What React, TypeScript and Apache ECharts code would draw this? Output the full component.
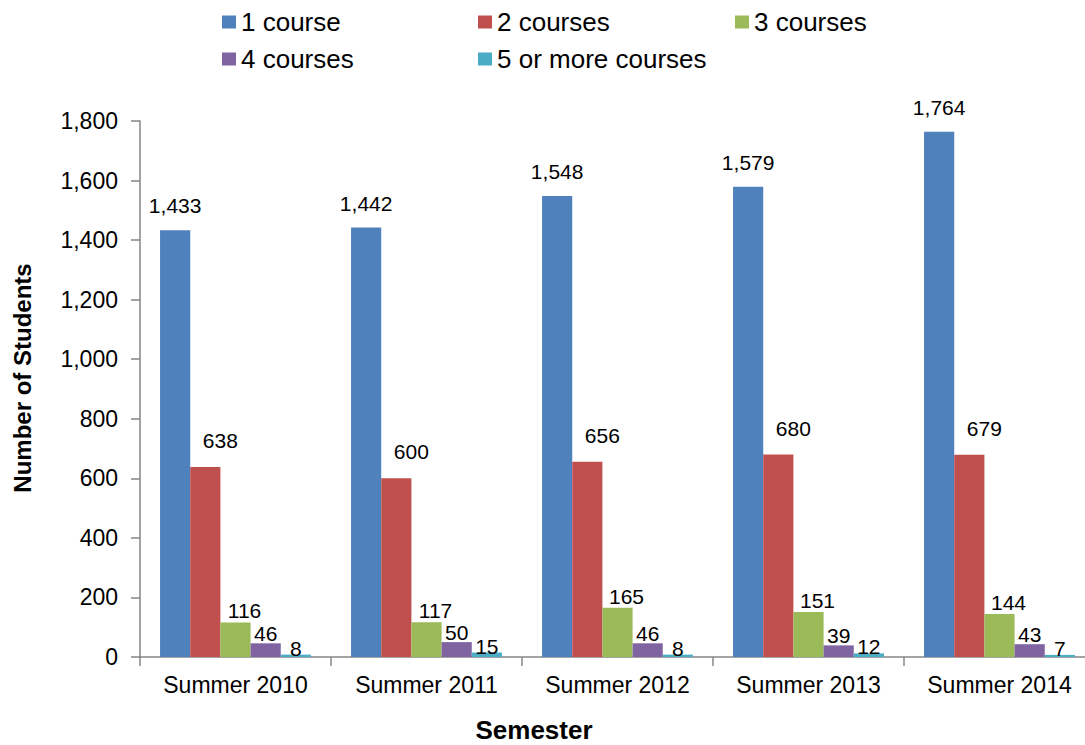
import React, { useEffect, useRef } from "react";
import * as echarts from "echarts";

const categories = ["Summer 2010", "Summer 2011", "Summer 2012", "Summer 2013", "Summer 2014"];
const seriesNames = ["1 course", "2 courses", "3 courses", "4 courses", "5 or more courses"];
const oneCourse = [1433, 1442, 1548, 1579, 1764];
const twoCourses = [638, 600, 656, 680, 679];
const threeCourses = [116, 117, 165, 151, 144];
const fourCourses = [46, 50, 46, 39, 43];
const fiveOrMore = [8, 15, 8, 12, 7];
const yTicks = { min: 0, max: 1800, interval: 200 };
const xTitle = "Semester";
const yTitle = "Number of Students";

const colors = ["#4F81BD", "#C0504D", "#9BBB59", "#8064A2", "#4BACC6"];
const labelOffsets: [number, number][] = [[0, -9], [15, -11], [9, 4], [0, 6], [0, 9]];
const legendPos = [
  { left: 222, top: 9 },
  { left: 478, top: 9 },
  { left: 735, top: 9 },
  { left: 222, top: 46 },
  { left: 478, top: 46 },
];

const FONT = "'Liberation Sans', Arial, sans-serif";

export default function App() {
  const ref = useRef<HTMLDivElement>(null);
  useEffect(() => {
    if (!ref.current) return;
    const chart = echarts.init(ref.current, null, { renderer: "svg" });
    const data = [oneCourse, twoCourses, threeCourses, fourCourses, fiveOrMore];
    const fmt = (v: number) => v.toLocaleString("en-US");
    chart.setOption({
      animation: false,
      textStyle: { fontFamily: FONT },
      color: colors,
      legend: seriesNames.map((n, i) => ({
        data: [n],
        left: legendPos[i].left,
        top: legendPos[i].top,
        padding: 0,
        itemWidth: 14,
        itemHeight: 13,
        icon: "rect",
        textStyle: { fontSize: 26, color: "#000", fontFamily: FONT },
      })),
      graphic: [
        {
          type: "text",
          x: 534,
          y: 730,
          style: {
            text: xTitle,
            fontSize: 26,
            lineHeight: 26,
            fontWeight: "bold",
            fill: "#000",
            fontFamily: FONT,
            align: "center",
            verticalAlign: "middle",
          },
        },
        {
          type: "text",
          x: 22,
          y: 378,
          rotation: Math.PI / 2,
          style: {
            text: yTitle,
            fontSize: 24,
            fontWeight: "bold",
            fill: "#000",
            fontFamily: FONT,
            align: "center",
            verticalAlign: "middle",
          },
        },
      ],
      grid: { left: 140, right: -10, top: 121, bottom: 88, outerBoundsMode: "none", containLabel: false },
      xAxis: {
        type: "category",
        data: categories,
        axisLine: { lineStyle: { color: "#868686", width: 1.5 } },
        axisTick: { show: true, length: 9, lineStyle: { color: "#868686", width: 1.5 } },
        axisLabel: { fontSize: 23, color: "#000", margin: 16, interval: 0, fontFamily: FONT },
      },
      yAxis: {
        type: "value",
        min: yTicks.min,
        max: yTicks.max,
        interval: yTicks.interval,
        axisLine: { show: true, lineStyle: { color: "#868686", width: 1.5 } },
        axisTick: { show: true, length: 9, lineStyle: { color: "#868686", width: 1.5 } },
        axisLabel: { fontSize: 23, color: "#000", margin: 22, formatter: (v: number) => fmt(v), fontFamily: FONT },
        splitLine: { show: false },
      },
      series: seriesNames.map((n, i) => ({
        name: n,
        type: "bar",
        data: data[i],
        barGap: "0%",
        barCategoryGap: "21%",
        itemStyle: { color: colors[i] },
        label: {
          show: true,
          position: "top",
          distance: 5,
          offset: labelOffsets[i],
          fontSize: 21,
          color: "#000",
          fontFamily: FONT,
          formatter: (p: any) => fmt(p.value),
        },
      })),
    });
    return () => chart.dispose();
  }, []);
  return <div ref={ref} style={{ width: 1085, height: 745, position: "absolute", left: 0, top: 0 }} />;
}
